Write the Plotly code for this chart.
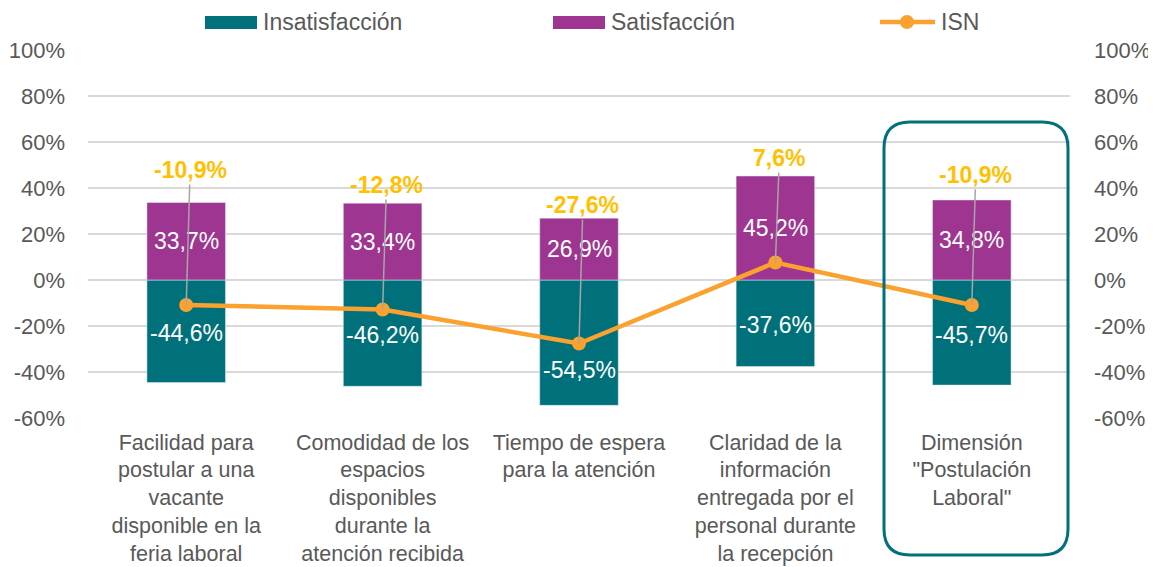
import plotly.graph_objects as go

# ---------------- data ----------------
categories = [
    "Facilidad para<br>postular a una<br>vacante<br>disponible en la<br>feria laboral",
    "Comodidad de los<br>espacios<br>disponibles<br>durante la<br>atención recibida",
    "Tiempo de espera<br>para la atención",
    "Claridad de la<br>información<br>entregada por el<br>personal durante<br>la recepción",
    "Dimensión<br>\"Postulación<br>Laboral\"",
]
insatisfaccion = [-44.6, -46.2, -54.5, -37.6, -45.7]
satisfaccion = [33.7, 33.4, 26.9, 45.2, 34.8]
isn = [-10.9, -12.8, -27.6, 7.6, -10.9]
isn_label_y = [47.8, 41.3, 32.6, 53.0, 45.7]   # label placement (axis units)
y_ticks = [-60, -40, -20, 0, 20, 40, 60, 80, 100]

# ---------------- style ----------------
FONT = "Liberation Sans, Arial, sans-serif"
GRAY = "#595959"
TEAL = "#00717B"
PURPLE = "#9E3590"
ORANGE = "#FBA12F"
GOLD = "#FFC000"
OFF = 8                      # page body margin
W, H = 1156 - OFF, 567 - OFF
L, R, T, B = 80, 86, 42, 149
PW, PH = W - L - R, H - T - B


def fx(px):
    """screen pixel x -> paper x"""
    return (px - OFF - L) / PW


def fy(py):
    """screen pixel y -> paper y"""
    return (H - B - (py - OFF)) / PH


def fmt(v):
    return f"{v:.1f}".replace(".", ",") + "%"


x = list(range(len(categories)))

fig = go.Figure()
fig.add_trace(go.Bar(x=x, y=insatisfaccion, marker_color=TEAL, width=0.4,
                     name="Insatisfacción", showlegend=False, hoverinfo="skip"))
fig.add_trace(go.Bar(x=x, y=satisfaccion, marker_color=PURPLE, width=0.4,
                     name="Satisfacción", showlegend=False, hoverinfo="skip"))
fig.add_trace(go.Scatter(x=x, y=isn, mode="lines+markers", name="ISN",
                         line=dict(color=ORANGE, width=4.5),
                         marker=dict(color=ORANGE, size=14),
                         showlegend=False, hoverinfo="skip"))
fig.add_trace(go.Scatter(x=[x[0]], y=[None], yaxis="y2", showlegend=False,
                         hoverinfo="skip"))

ann = []
for i in x:
    # bar value labels
    yn = insatisfaccion[i] / 2
    shift = -27 if abs(yn - isn[i]) < 8 else -2
    ann.append(dict(x=i, y=yn, text=fmt(insatisfaccion[i]), showarrow=False,
                    yshift=shift, font=dict(family=FONT, size=23, color="white")))
    ann.append(dict(x=i, y=satisfaccion[i] / 2, text=fmt(satisfaccion[i]),
                    showarrow=False, font=dict(family=FONT, size=23, color="white")))
    # ISN labels with leader lines
    ann.append(dict(x=i, y=isn[i], ax=i + 0.02, ay=isn_label_y[i], axref="x", ayref="y",
                    text="<b>" + fmt(isn[i]) + "</b>", showarrow=True, arrowhead=0,
                    arrowwidth=1.5, arrowcolor="#A6A6A6", standoff=0,
                    font=dict(family=FONT, size=23, color=GOLD)))

# custom legend
shapes = []
legend_items = [("Insatisfacción", "bar", TEAL, 205), ("Satisfacción", "bar", PURPLE, 553),
                ("ISN", "line", ORANGE, 880)]
for name, kind, col, px0 in legend_items:
    if kind == "bar":
        shapes.append(dict(type="rect", xref="paper", yref="paper",
                           x0=fx(px0), x1=fx(px0 + 52), y0=fy(29), y1=fy(16),
                           fillcolor=col, line_width=0))
        tx = px0 + 56
    else:
        shapes.append(dict(type="line", xref="paper", yref="paper",
                           x0=fx(px0), x1=fx(px0 + 55), y0=fy(22), y1=fy(22),
                           line=dict(color=col, width=4.5)))
        shapes.append(dict(type="circle", xref="paper", yref="paper",
                           x0=fx(px0 + 20), x1=fx(px0 + 34), y0=fy(29), y1=fy(15),
                           fillcolor=col, line_width=0))
        tx = px0 + 59
    ann.append(dict(xref="paper", yref="paper", x=fx(tx), y=fy(22), text=name,
                    xanchor="left", yanchor="middle", showarrow=False,
                    font=dict(family=FONT, size=23, color=GRAY)))

# rounded highlight rectangle around the last category
x0, x1, yt, yb, r = 884, 1068, 122, 555, 26
path = (f"M {fx(x0 + r)},{fy(yt)} L {fx(x1 - r)},{fy(yt)} "
        f"Q {fx(x1)},{fy(yt)} {fx(x1)},{fy(yt + r)} "
        f"L {fx(x1)},{fy(yb - r)} Q {fx(x1)},{fy(yb)} {fx(x1 - r)},{fy(yb)} "
        f"L {fx(x0 + r)},{fy(yb)} Q {fx(x0)},{fy(yb)} {fx(x0)},{fy(yb - r)} "
        f"L {fx(x0)},{fy(yt + r)} Q {fx(x0)},{fy(yt)} {fx(x0 + r)},{fy(yt)} Z")
shapes.append(dict(type="path", xref="paper", yref="paper", path=path,
                   line=dict(color=TEAL, width=3), fillcolor="rgba(0,0,0,0)"))

yaxis_common = dict(range=[-60, 100], tickvals=y_ticks,
                    ticktext=[f"{v}%" for v in y_ticks], ticks="",
                    tickfont=dict(family=FONT, size=22, color=GRAY),
                    zeroline=False, showline=False, fixedrange=True)

fig.update_layout(
    width=W, height=H,
    margin=dict(l=L, r=R, t=T, b=B, autoexpand=False),
    paper_bgcolor="white", plot_bgcolor="white",
    barmode="relative", bargap=0.6,
    font=dict(family=FONT, size=22, color=GRAY),
    xaxis=dict(range=[-0.5, len(categories) - 0.5], tickvals=x, ticktext=categories,
               ticks="", showgrid=False, zeroline=False, showline=False,
               tickfont=dict(family=FONT, size=21.5, color=GRAY),
               ticklabelstandoff=9, tickangle=0),
    yaxis=dict(**yaxis_common, showgrid=True, gridcolor="#D9D9D9", gridwidth=1.5,
               ticklabelstandoff=22),
    yaxis2=dict(**yaxis_common, overlaying="y", side="right", showgrid=False,
                ticklabelstandoff=23),
    annotations=ann,
    shapes=shapes,
    showlegend=False,
)

fig.write_html("out.html")
